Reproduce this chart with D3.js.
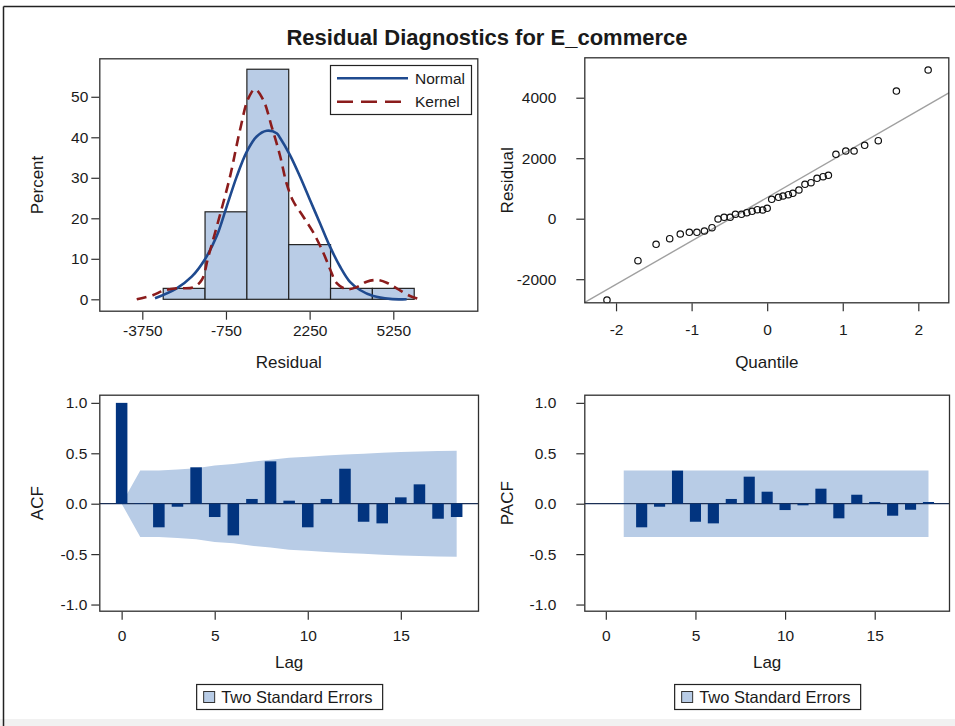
<!DOCTYPE html>
<html><head><meta charset="utf-8">
<script src="https://cdn.jsdelivr.net/npm/d3@7"></script>
<style>
body{margin:0;background:#fff}
svg{display:block}
text{font-family:"Liberation Sans",Arial,Helvetica,sans-serif;fill:#1a1a1a}
</style>
</head><body><svg id="c" width="955" height="726"></svg>
<script>
// ---------- DATA ----------
const titleText = "Residual Diagnostics for E_commerce";
// Histogram of residuals
const binEdges = [-3000, -1500, 0, 1500, 3000, 4500, 6000];
const binPercents = [2.7, 21.6, 56.8, 13.5, 2.7, 2.7];
const histXTicks = [-3750, -750, 2250, 5250];
const histYTicks = [0, 10, 20, 30, 40, 50];
const normalX = [-3295, -2517, -1979, -1502, -1082, -724, -365, -7, 352, 711, 1069, 1187, 1546, 1904, 2263, 2621, 2980, 3339, 3697, 4056, 4533, 5131, 5729];
const normalY = [0.25, 2.72, 5.58, 9.9, 15.6, 22.9, 30.3, 36.4, 40.2, 41.6, 41.0, 39.9, 35.6, 30.3, 24.5, 18.8, 13.0, 8.1, 4.3, 2.3, 0.8, 0.1, 0];
const kernelX = [-3950, -3356, -2997, -2517, -1921, -1620, -1383, -1082, -605, -247, 51, 291, 589, 890, 1187, 1428, 1664, 2023, 2381, 2740, 2980, 3220, 3579, 3938, 4296, 4655, 5014, 5372, 5849, 6208];
const kernelY = [0, 1.06, 2.12, 2.72, 2.96, 4.77, 10.5, 17.9, 30.3, 41.8, 49.6, 51.85, 49.2, 42.6, 35.5, 28.5, 24.2, 20.4, 16.5, 11.5, 7.5, 4.0, 2.5, 3.0, 4.35, 4.77, 4.1, 2.72, 0.81, 0];
// Q-Q plot
const qqQuantiles = [-2.12, -1.71, -1.47, -1.29, -1.15, -1.03, -0.93, -0.83, -0.73, -0.65, -0.57, -0.49, -0.42, -0.34, -0.27, -0.20, -0.13, -0.06, 0.00, 0.06, 0.15, 0.21, 0.28, 0.34, 0.42, 0.50, 0.58, 0.66, 0.74, 0.81, 0.91, 1.04, 1.15, 1.29, 1.47, 1.71, 2.13];
const qqResiduals = [-2688, -1388, -846, -661, -506, -450, -450, -407, -298, -10, 46, 46, 145, 145, 198, 245, 298, 287, 344, 641, 707, 750, 793, 840, 949, 1137, 1190, 1335, 1388, 1435, 2129, 2238, 2238, 2426, 2579, 4221, 4916];
const qqRefX = [-2.42, 2.41];
const qqRefY = [-2777, 4165];
const qqXTicks = [-2, -1, 0, 1, 2];
const qqYTicks = [-2000, 0, 2000, 4000];
// ACF
const acfLags = [0, 1, 2, 3, 4, 5, 6, 7, 8, 9, 10, 11, 12, 13, 14, 15, 16, 17, 18];
const acfValues = [1.0, 0.004, -0.234, -0.03, 0.361, -0.132, -0.314, 0.047, 0.42, 0.03, -0.234, 0.047, 0.347, -0.179, -0.195, 0.063, 0.192, -0.149, -0.132];
const acfBand = [0, 0.329, 0.33, 0.34, 0.352, 0.38, 0.393, 0.417, 0.435, 0.456, 0.466, 0.478, 0.488, 0.496, 0.505, 0.513, 0.518, 0.523, 0.526];
// PACF
const pacfLags = [1, 2, 3, 4, 5, 6, 7, 8, 9, 10, 11, 12, 13, 14, 15, 16, 17, 18];
const pacfValues = [0.004, -0.234, -0.03, 0.328, -0.179, -0.195, 0.047, 0.268, 0.119, -0.063, -0.016, 0.149, -0.145, 0.089, 0.017, -0.119, -0.06, 0.017];
const pacfBand = [0.329, 0.329, 0.329, 0.329, 0.329, 0.329, 0.329, 0.329, 0.329, 0.329, 0.329, 0.329, 0.329, 0.329, 0.329, 0.329, 0.329, 0.329];
const corrTicks = [-1, -0.5, 0, 0.5, 1];
const lagTicks = [0, 5, 10, 15];

// ---------- STYLE ----------
const C = {
  frame: "#303030", histFill: "#b9cce6", histStroke: "#222",
  normal: "#1f4a8f", kernel: "#8b1c1c", band: "#b8cce6", bar: "#02347f",
  ref: "#a0a0a0", zero: "#1b2f55"
};
const TICK_FS = 15.5, LABEL_FS = 17;
const svg = d3.select("#c");

// page frame
svg.append("rect").attr("x", 0).attr("y", 719).attr("width", 955).attr("height", 7).attr("fill", "#f1f1f1");
svg.append("line").attr("x1", 3.5).attr("x2", 955).attr("y1", 6.5).attr("y2", 6.5).attr("stroke", "#222").attr("stroke-width", 1.5);
svg.append("line").attr("x1", 3.5).attr("x2", 3.5).attr("y1", 6.5).attr("y2", 726).attr("stroke", "#222").attr("stroke-width", 1.5);

svg.append("text").attr("x", 487).attr("y", 45).attr("text-anchor", "middle")
  .attr("font-size", 22).attr("font-weight", "bold").text(titleText);

const fmtInt = d => String(d);
const fmt1 = d => d.toFixed(1);

function panel(o) {
  const g = svg.append("g");
  const x = d3.scaleLinear().domain(o.xd).range([o.x0, o.x1]);
  const y = d3.scaleLinear().domain(o.yd).range([o.y1, o.y0]);
  const id = "clip" + Math.round(o.x0) + "_" + Math.round(o.y0);
  svg.append("clipPath").attr("id", id).append("rect")
    .attr("x", o.x0).attr("y", o.y0).attr("width", o.x1 - o.x0).attr("height", o.y1 - o.y0);
  const inner = g.append("g").attr("clip-path", `url(#${id})`);
  const ax = g.append("g").attr("transform", `translate(0,${o.y1})`)
    .call(d3.axisBottom(x).tickValues(o.xt).tickFormat(o.xf).tickSize(8).tickPadding(o.xpad));
  const ay = g.append("g").attr("transform", `translate(${o.x0},0)`)
    .call(d3.axisLeft(y).tickValues(o.yt).tickFormat(o.yf).tickSize(8).tickPadding(o.ypad));
  [ax, ay].forEach(a => {
    a.select(".domain").remove();
    a.selectAll("line").attr("stroke", C.frame).attr("stroke-width", 1.2);
    a.selectAll("text").attr("font-size", TICK_FS).attr("font-family", "'Liberation Sans',Arial,sans-serif").attr("fill", "#1a1a1a");
  });
  g.append("text").attr("x", (o.x0 + o.x1) / 2).attr("y", o.xLabY).attr("text-anchor", "middle")
    .attr("font-size", LABEL_FS).text(o.xl);
  g.append("text").attr("transform", `translate(${o.yLabX},${(o.y0 + o.y1) / 2}) rotate(-90)`)
    .attr("text-anchor", "middle").attr("font-size", LABEL_FS).text(o.yl);
  return {g, inner, x, y, frame: () => g.append("rect").attr("x", o.x0 + 0.5).attr("y", o.y0 + 0.5)
    .attr("width", o.x1 - o.x0 - 1).attr("height", o.y1 - o.y0 - 1).attr("fill", "none").attr("stroke", C.frame).attr("stroke-width", 1.3)};
}

// ---------- Histogram ----------
const h = panel({x0: 99.3, x1: 478.3, y0: 58.3, y1: 311.7, xd: [-5292, 8298], yd: [-3.06, 59.5],
  xt: histXTicks, yt: histYTicks, xf: fmtInt, yf: fmtInt, xl: "Residual", yl: "Percent",
  yLabX: 43, xLabY: 368, xpad: 5, ypad: 3});
h.inner.selectAll("rect.bin").data(binPercents).join("rect").attr("class", "bin")
  .attr("x", (d, i) => h.x(binEdges[i])).attr("width", (d, i) => h.x(binEdges[i + 1]) - h.x(binEdges[i]))
  .attr("y", d => h.y(d)).attr("height", d => h.y(0) - h.y(d))
  .attr("fill", C.histFill).attr("stroke", C.histStroke).attr("stroke-width", 1.2);
const normalPts = normalX.map((v, i) => [v, normalY[i]]);
const kernelPts = kernelX.map((v, i) => [v, kernelY[i]]);
const lineGen = d3.line().x(d => h.x(d[0])).y(d => h.y(d[1])).curve(d3.curveCatmullRom.alpha(0.5));
h.inner.append("path").attr("d", lineGen(normalPts)).attr("fill", "none").attr("stroke", C.normal).attr("stroke-width", 2.6);
h.inner.append("path").attr("d", lineGen(kernelPts)).attr("fill", "none").attr("stroke", C.kernel).attr("stroke-width", 2.6)
  .attr("stroke-dasharray", "10,6");
const lg = h.g.append("g");
lg.append("rect").attr("x", 330.5).attr("y", 65.5).attr("width", 141).attr("height", 49).attr("fill", "#fff").attr("stroke", "#222").attr("stroke-width", 1.2);
lg.append("line").attr("x1", 337).attr("x2", 408).attr("y1", 78.3).attr("y2", 78.3).attr("stroke", C.normal).attr("stroke-width", 2.6);
lg.append("line").attr("x1", 337).attr("x2", 408).attr("y1", 101.7).attr("y2", 101.7).attr("stroke", C.kernel).attr("stroke-width", 2.6).attr("stroke-dasharray", "16,8");
lg.append("text").attr("x", 415).attr("y", 83.5).attr("font-size", 15.5).text("Normal");
lg.append("text").attr("x", 415).attr("y", 107).attr("font-size", 15.5).text("Kernel");
h.frame();

// ---------- Q-Q ----------
const q = panel({x0: 584.3, x1: 949.3, y0: 57.3, y1: 303.3, xd: [-2.42, 2.41], yd: [-2797, 5336],
  xt: qqXTicks, yt: qqYTicks, xf: fmtInt, yf: fmtInt, xl: "Quantile", yl: "Residual",
  yLabX: 513, xLabY: 368, xpad: 13, ypad: 20});
q.inner.append("line").attr("x1", q.x(qqRefX[0])).attr("y1", q.y(qqRefY[0])).attr("x2", q.x(qqRefX[1])).attr("y2", q.y(qqRefY[1]))
  .attr("stroke", C.ref).attr("stroke-width", 1.4);
q.inner.selectAll("circle").data(qqQuantiles).join("circle")
  .attr("cx", d => q.x(d)).attr("cy", (d, i) => q.y(qqResiduals[i])).attr("r", 3.2)
  .attr("fill", "none").attr("stroke", "#111").attr("stroke-width", 1.2);
q.frame();

// ---------- ACF / PACF ----------
function corrPanel(o, lagsArr, vals, bandLags, band, ylab) {
  const p = panel(Object.assign({y0: 394.7, y1: 611.7, xd: [-1.2, 19.2], yd: [-1.071, 1.081],
    xt: lagTicks, yt: corrTicks, xf: fmtInt, yf: fmt1, xl: "Lag", yl: ylab, xLabY: 668, xpad: 10}, o));
  const area = d3.area().x(d => p.x(d[0])).y0(d => p.y(-d[1])).y1(d => p.y(d[1]));
  p.inner.append("path").attr("d", area(bandLags.map((l, i) => [l, band[i]]))).attr("fill", C.band);
  p.inner.append("line").attr("x1", o.x0).attr("x2", o.x1).attr("y1", p.y(0)).attr("y2", p.y(0))
    .attr("stroke", C.zero).attr("stroke-width", 1.2);
  const bw = p.x(0.62) - p.x(0);
  p.inner.selectAll("rect.bar").data(vals).join("rect").attr("class", "bar")
    .attr("x", (d, i) => p.x(lagsArr[i]) - bw / 2).attr("width", bw)
    .attr("y", d => p.y(Math.max(0, d))).attr("height", d => Math.abs(p.y(d) - p.y(0)))
    .attr("fill", C.bar);
  p.frame();
  const cx = (o.x0 + o.x1) / 2;
  const lw = 186, lx = cx - lw / 2;
  const l = p.g.append("g");
  l.append("rect").attr("x", lx + 0.5).attr("y", 684.5).attr("width", lw).attr("height", 25).attr("fill", "#fff").attr("stroke", "#222").attr("stroke-width", 1.2);
  l.append("rect").attr("x", lx + 7.5).attr("y", 691.5).attr("width", 11).attr("height", 11).attr("fill", C.band).attr("stroke", "#333").attr("stroke-width", 1);
  l.append("text").attr("x", lx + 25).attr("y", 703).attr("font-size", 16.5).text("Two Standard Errors");
  return p;
}
corrPanel({x0: 99.3, x1: 479, yLabX: 43, ypad: 4}, acfLags, acfValues, acfLags, acfBand, "ACF");
corrPanel({x0: 584.3, x1: 950, yLabX: 513, ypad: 20}, pacfLags, pacfValues, pacfLags, pacfBand, "PACF");
</script></body></html>
